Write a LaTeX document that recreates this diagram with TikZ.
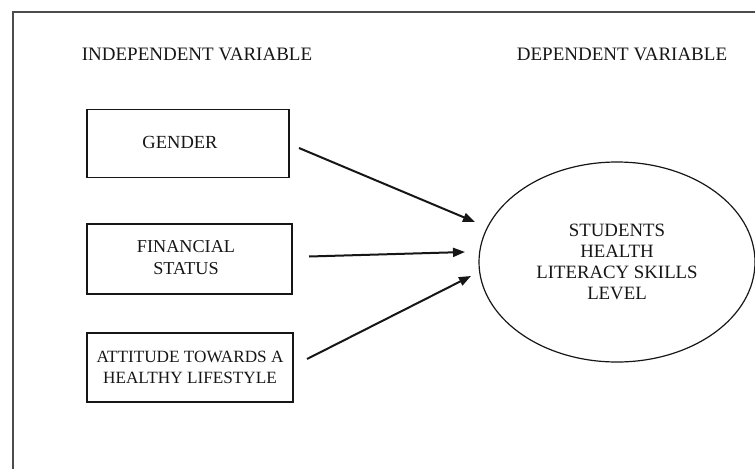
\documentclass[tikz,border=0pt]{standalone}
\usepackage{fontspec}
\setmainfont{Liberation Serif}
\usetikzlibrary{arrows.meta,shapes.geometric}
\definecolor{ink}{HTML}{161616}
\begin{document}
\begin{tikzpicture}[x=1pt,y=-1pt,
  lbl/.style={font=\fontsize{19}{21}\selectfont, text=ink, inner sep=0pt, align=center},
  varbox/.style={draw=ink, line width=1.4pt, inner sep=0pt},
  boxtext/.style={text=ink, inner sep=0pt, align=center},
  outcome/.style={draw=ink, line width=1.2pt, ellipse, minimum width=276pt, minimum height=200pt,
                 inner sep=0pt, align=center, font=\fontsize{18.8}{21}\selectfont, text=ink},
  link/.style={draw=ink, line width=2pt, -{Triangle[length=12pt,width=9pt]}}]
\useasboundingbox (0,0) rectangle (755,469);
\clip (0,0) rectangle (755,469);
\draw[line width=2.2pt, draw=black!70] (13,469) -- (13,12) -- (757,12);
\node[lbl] (ivh) at (197,54) {INDEPENDENT VARIABLE};
\node[lbl] (dvh) at (622,54) {DEPENDENT VARIABLE};
\node[varbox, minimum width=202pt, minimum height=68pt] (gender) at (188,143.5) {};
\node[boxtext, font=\fontsize{18.5}{22}\selectfont] (gendert) at (180,142) {GENDER};
\node[varbox, minimum width=205pt, minimum height=70pt] (fin) at (189.5,259) {};
\node[boxtext, font=\fontsize{18.2}{21.5}\selectfont] (fint) at (186,257.5) {FINANCIAL\\STATUS};
\node[varbox, minimum width=206pt, minimum height=69pt] (att) at (190,367.5) {};
\node[boxtext, font=\fontsize{17.2}{21.5}\selectfont] (attt) at (190,367.5) {ATTITUDE TOWARDS A\\HEALTHY LIFESTYLE};
\node[outcome] (stud) at (617,262) {STUDENTS\\HEALTH\\LITERACY SKILLS\\LEVEL};
\coordinate (g1) at (299,148);
\coordinate (g2) at (475,222);
\coordinate (f1) at (309,256.5);
\coordinate (f2) at (465,252);
\coordinate (a1) at (307,359);
\coordinate (a2) at (471,276);
\draw[link] (g1) -- (g2);
\draw[link] (f1) -- (f2);
\draw[link] (a1) -- (a2);
\end{tikzpicture}
\end{document}
